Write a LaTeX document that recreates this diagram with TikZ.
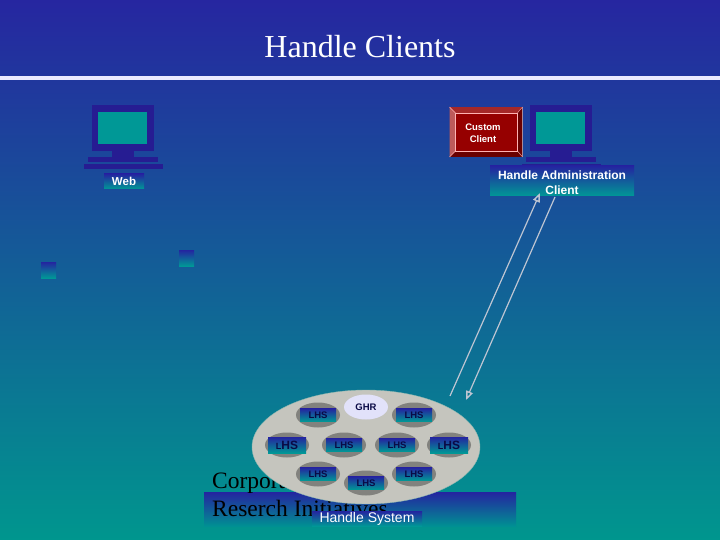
\documentclass[tikz,border=0pt]{standalone}
\usepackage{fontspec}
\setmainfont{Liberation Serif}
\setsansfont{Liberation Sans}
\usepackage{tikz}
\usetikzlibrary{shapes.geometric, arrows.meta, positioning}

\definecolor{deepblue}{RGB}{38,38,160}
\definecolor{seateal}{RGB}{0,150,142}
\definecolor{pcblue}{RGB}{38,28,146}
\definecolor{stripeblue}{RGB}{36,36,160}
\definecolor{screenteal}{RGB}{0,152,150}
\definecolor{diskgray}{RGB}{197,197,190}
\definecolor{ovalgray}{RGB}{130,130,126}
\definecolor{ghrlilac}{RGB}{226,226,250}
\definecolor{wirelilac}{RGB}{205,212,235}
\definecolor{wiregray}{RGB}{190,197,210}
\definecolor{inknavy}{RGB}{10,10,70}
\definecolor{facered}{RGB}{150,0,0}
\definecolor{bevellight}{RGB}{190,90,90}
\definecolor{bevelmid}{RGB}{165,40,40}
\definecolor{beveldark}{RGB}{105,0,0}

\newcommand{\drawpc}[2]{%
    \fill[pcblue] (#1,#2) rectangle ++(62,46);
    \fill[screenteal] (#1+6,#2+7) rectangle ++(49,32);
    \fill[pcblue] (#1+20,#2+46) rectangle ++(22,6);
    \fill[pcblue] (#1-4,#2+52) rectangle ++(70,5);
    \fill[pcblue] (#1-8,#2+59) rectangle ++(79,5);
}

\begin{document}
\begin{tikzpicture}[
            x=1pt, y=-1pt,
            every node/.style={font=\sffamily\bfseries},
            stripe/.style={
                rectangle,
                inner sep=0pt,
                align=center,
                top color=stripeblue,
                bottom color=screenteal,
                text=white
            },
            lhsoval/.style={
                ellipse,
                fill=ovalgray,
                inner sep=0pt,
                minimum width=44pt,
                minimum height=25pt
            },
            lhsbox/.style={
                stripe,
                text=inknavy,
                minimum width=36pt,
                minimum height=13pt,
                font=\sffamily\bfseries\fontsize{9.5}{10}\selectfont
            },
            lhswide/.style={
                lhsbox,
                minimum width=38pt,
                minimum height=16pt,
                font=\sffamily\bfseries\fontsize{12}{12}\selectfont
            },
            arrow/.style={-{Triangle[open,length=9pt,width=7pt,line width=1.4pt]}, wiregray, line width=1.2pt}
        ]

        % Backdrop
        \node[rectangle, inner sep=0pt, minimum width=720pt, minimum height=540pt, top color=deepblue, bottom color=seateal] (back) at (360,270) {};
        \node[rectangle, inner sep=0pt, minimum width=720pt, minimum height=4pt, fill=white!92!blue] (rule) at (360,78) {};
        \node[font=\rmfamily\fontsize{32}{34}\selectfont, text=white] (title) at (360,47) {Handle Clients};

        % Computers
        \drawpc{92}{105}
        \drawpc{530}{105}

        % Nodes
        \node[stripe, minimum width=40pt, minimum height=15pt, font=\sffamily\bfseries\fontsize{11.5}{12}\selectfont] (web) at (124,181.5) {Web};
        \node[stripe, minimum width=144pt, minimum height=30pt] (admin) at (562,181) {};
        \node[align=center, text=white, font=\sffamily\bfseries\fontsize{12}{15}\selectfont] (admintext) at (562,182.5) {Handle Administration\\Client};

        \node[stripe, minimum width=15pt, minimum height=16pt] (stubleft) at (48.5,270) {};
        \node[stripe, minimum width=15pt, minimum height=16pt] (stubright) at (186.5,258) {};

        % Custom client, raised button
        \node[rectangle, inner sep=0pt, minimum width=72pt, minimum height=49pt, fill=facered, draw=wirelilac, thick] (custom) at (486,132) {};
        \coordinate (inNW) at ([shift={(6,6)}]custom.north west);
        \coordinate (inNE) at ([shift={(-5,6)}]custom.north east);
        \coordinate (inSE) at ([shift={(-5,-6)}]custom.south east);
        \coordinate (inSW) at ([shift={(6,-6)}]custom.south west);
        \fill[bevelmid] (custom.north west) -- (custom.north east) -- (inNE) -- (inNW) -- cycle;
        \fill[bevellight] (custom.north west) -- (custom.south west) -- (inSW) -- (inNW) -- cycle;
        \fill[beveldark] (custom.south west) -- (custom.south east) -- (inSE) -- (inSW) -- cycle;
        \fill[beveldark] (custom.north east) -- (custom.south east) -- (inSE) -- (inNE) -- cycle;
        \draw[red!30!white, semithick] (inNW) -- (inNE) -- (inSE) -- (inSW) -- cycle;
        \draw[red!30!white] (custom.north west) -- (inNW) (custom.north east) -- (inNE) (custom.south east) -- (inSE) (custom.south west) -- (inSW);
        \node[align=center, text=white, font=\sffamily\bfseries\fontsize{9.5}{12}\selectfont] (customtext) at (483,133) {Custom\\Client};

        % Handle system band and what lies behind the disk
        \node[rectangle, inner sep=0pt, minimum width=312pt, minimum height=34pt, top color=stripeblue, bottom color=seateal!96!blue] (band) at (360,509) {};
        \node[anchor=north west, align=left, inner sep=0pt, text=black, font=\rmfamily\fontsize{23.5}{28}\selectfont] (corp) at (212,473) {Corporate\\Reserch Initiatives};

        % Disk
        \node[ellipse, fill=diskgray, draw=diskgray!70!seateal, inner sep=0pt, minimum width=228pt, minimum height=114pt] (disk) at (366,447) {};
        \node[stripe, minimum width=110pt, minimum height=15pt, font=\sffamily\fontsize{14}{15}\selectfont] (system) at (367,518.5) {Handle System};

        \node[lhsoval, fill=ghrlilac, font=\sffamily\bfseries\fontsize{9.5}{10}\selectfont, text=inknavy] (ghr) at (366,407) {GHR};

        \node[lhsoval] (topleft) at (318,415) {};
        \node[lhsoval] (topright) at (414,415) {};
        \node[lhsoval] (midA) at (287,445) {};
        \node[lhsoval] (midB) at (344,445) {};
        \node[lhsoval] (midC) at (397,445) {};
        \node[lhsoval] (midD) at (449,445) {};
        \node[lhsoval] (lowleft) at (318,474) {};
        \node[lhsoval] (lowright) at (414,474) {};
        \node[lhsoval] (lowmid) at (366,483) {};

        \node[lhsbox] (lhstl) at (topleft) {LHS};
        \node[lhsbox] (lhstr) at (topright) {LHS};
        \node[lhswide] (lhsma) at (midA) {{\fontsize{9}{10}\selectfont L}HS};
        \node[lhsbox] (lhsmb) at (midB) {LHS};
        \node[lhsbox] (lhsmc) at (midC) {LHS};
        \node[lhswide] (lhsmd) at (midD) {{\fontsize{9}{10}\selectfont L}HS};
        \node[lhsbox] (lhsll) at (lowleft) {LHS};
        \node[lhsbox] (lhslr) at (lowright) {LHS};
        \node[lhsbox] (lhslm) at (lowmid) {LHS};

        % Arrows
        \coordinate (upfoot) at (450,396);
        \coordinate (uptip) at (540,193);
        \coordinate (downfoot) at (555,197);
        \coordinate (downtip) at (466,400);
        \draw[arrow] (upfoot) -- (uptip);
        \draw[arrow] (downfoot) -- (downtip);

        \end{tikzpicture}
\end{document}
